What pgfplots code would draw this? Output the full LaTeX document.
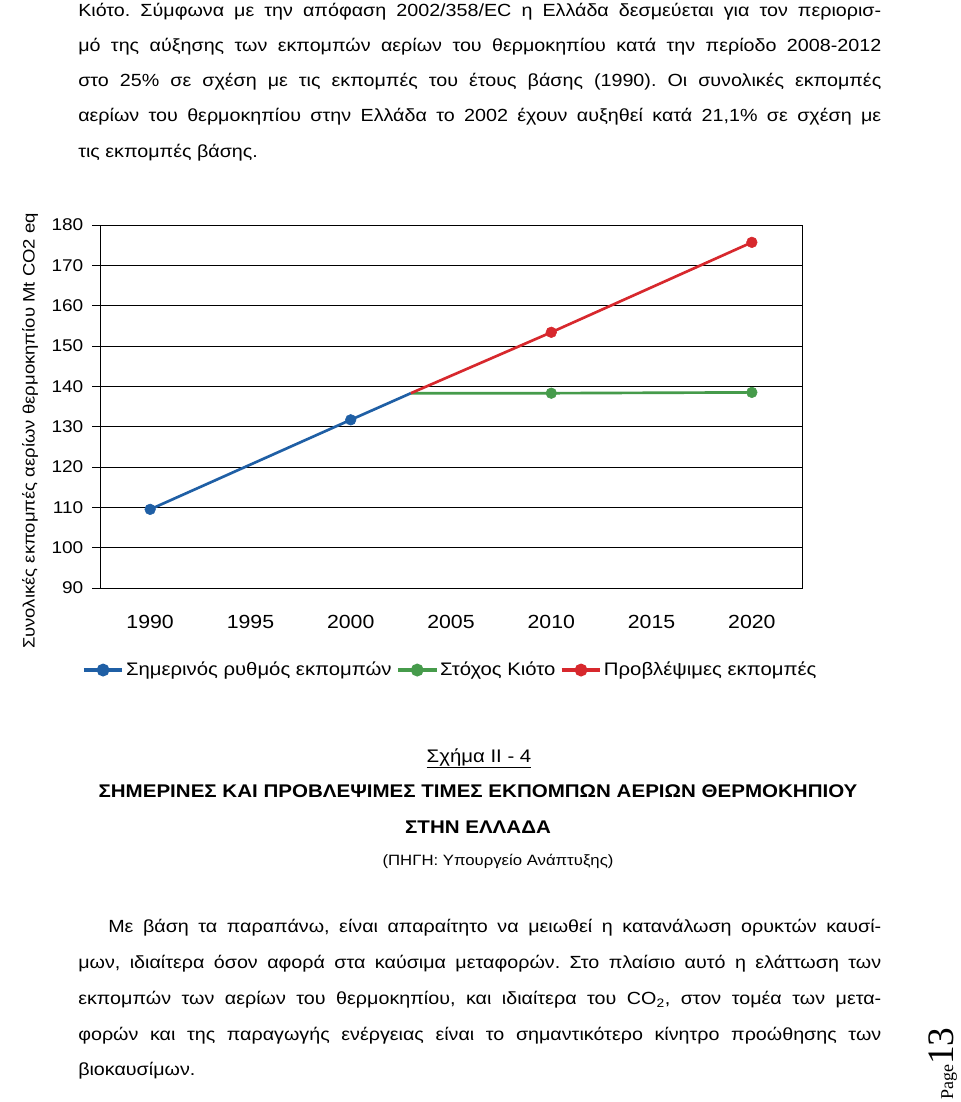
\documentclass[border=0pt]{standalone}
\usepackage{fontspec}
\setmainfont{Liberation Sans}[FakeStretch=1.12]
\newfontfamily\pagefont{Liberation Serif}
\usepackage{pgfplots}
\pgfplotsset{compat=1.18}
\definecolor{cblue}{RGB}{31,95,165}
\definecolor{cgreen}{RGB}{70,155,75}
\definecolor{cred}{RGB}{215,40,45}
\frenchspacing
\begin{document}
\begin{tikzpicture}
\useasboundingbox (0,0) rectangle (720pt,-826.5pt);
\fill[white] (0,0) rectangle (720pt,-826.5pt);
\begin{scope}[x=0.75pt,y=-0.75pt]
\tikzset{bl/.style={anchor=base west,inner sep=0pt,font=\fontsize{13.2}{15}\selectfont},
         bc/.style={anchor=base,inner sep=0pt}}
\node[bl] at (78,17) {\makebox[602.25pt][s]{Κιότο. Σύμφωνα με την απόφαση 2002/358/EC η Ελλάδα δεσμεύεται για τον περιορισ-}};
\node[bl] at (78,52) {\makebox[602.25pt][s]{μό της αύξησης των εκπομπών αερίων του θερμοκηπίου κατά την περίοδο 2008-2012}};
\node[bl] at (78,87) {\makebox[602.25pt][s]{στο 25\% σε σχέση με τις εκπομπές του έτους βάσης (1990). Οι συνολικές εκπομπές}};
\node[bl] at (78,122) {\makebox[602.25pt][s]{αερίων του θερμοκηπίου στην Ελλάδα το 2002 έχουν αυξηθεί κατά 21,1\% σε σχέση με}};
\node[bl] at (78,157) {τις εκπομπές βάσης.};
% caption
\node[bc,font=\fontsize{13.65}{15}\selectfont] at (479,762) {\underline{Σχήμα II - 4}};
\node[bc,font=\bfseries\fontsize{13.75}{15}\selectfont] at (478,797) {ΣΗΜΕΡΙΝΕΣ ΚΑΙ ΠΡΟΒΛΕΨΙΜΕΣ ΤΙΜΕΣ ΕΚΠΟΜΠΩΝ ΑΕΡΙΩΝ ΘΕΡΜΟΚΗΠΙΟΥ};
\node[bc,font=\bfseries\fontsize{13.75}{15}\selectfont] at (478,833) {ΣΤΗΝ ΕΛΛΑΔΑ};
\node[bc,font=\fontsize{11.2}{13}\selectfont] at (498,865) {(ΠΗΓΗ: Υπουργείο Ανάπτυξης)};
% bottom paragraph
\node[bl] at (108,932) {\makebox[579.75pt][s]{Με βάση τα παραπάνω, είναι απαραίτητο να μειωθεί η κατανάλωση ορυκτών καυσί-}};
\node[bl] at (78,968) {\makebox[602.25pt][s]{μων, ιδιαίτερα όσον αφορά στα καύσιμα μεταφορών. Στο πλαίσιο αυτό η ελάττωση των}};
\node[bl] at (78,1004) {\makebox[602.25pt][s]{εκπομπών των αερίων του θερμοκηπίου, και ιδιαίτερα του CO\textsubscript{2}, στον τομέα των μετα-}};
\node[bl] at (78,1040) {\makebox[602.25pt][s]{φορών και της παραγωγής ενέργειας είναι το σημαντικότερο κίνητρο προώθησης των}};
\node[bl] at (78,1075) {βιοκαυσίμων.};
% page number
\node[anchor=base west,inner sep=0pt,rotate=90] at (953,1100) {\pagefont{\fontsize{13.5}{14}\selectfont Page}{\fontsize{28}{29}\selectfont 13}};
\end{scope}
\begin{axis}[
  at={(75pt,-441pt)}, anchor=south west,
  scale only axis, width=526.5pt, height=272.25pt,
  xmin=1987.5, xmax=2022.5, ymin=90, ymax=180,
  xtick=\empty,
  minor xtick={1987.5,1992.5,...,2022.5},
  minor tick length=7.5pt,
  major tick length=6pt,
  extra x ticks={1990,1995,2000,2005,2010,2015,2020},
  extra x tick labels={1990,1995,2000,2005,2010,2015,2020},
  extra x tick style={major tick length=0pt, xticklabel style={yshift=-17pt}},
  ytick={90,100,...,180},
  tick align=outside,
  xtick pos=lower, ytick pos=left,
  ymajorgrids,
  grid style={black, line width=0.75pt},
  axis line style={black, line width=0.75pt},
  tick style={black, line width=0.75pt},
  /pgf/number format/assume math mode=true,
  xticklabel style={font=\fontsize{14.25}{16}\selectfont},
  yticklabel style={font=\fontsize{12.75}{14}\selectfont, xshift=-3pt},
  ylabel={Συνολικές εκπομπές αερίων θερμοκηπίου Mt CO2 eq},
  ylabel style={at={(axis description cs:-0.0997,0.4325)}, anchor=center, font=\fontsize{12.4}{14}\selectfont},
  legend style={at={(axis description cs:0.498,-0.226)}, anchor=center, draw=none, fill=none,
    font=\fontsize{13.6}{15}\selectfont, legend columns=3,
    /tikz/every even column/.append style={column sep=2pt},
    nodes={inner xsep=1pt}},
  legend cell align=left,
  legend image code/.code={\draw[#1,line width=3.4pt] (0pt,0pt) -- (29pt,0pt); \fill[#1] (14.5pt,0pt) circle (3.8pt);},
]
\addplot[cblue, line width=2pt] coordinates {(1990,109.5) (2000,131.7) (2003,138.3)};
\addlegendentry{Σημερινός ρυθμός εκπομπών}
\addplot[cgreen, line width=2pt] coordinates {(2003,138.3) (2010,138.3) (2020,138.5)};
\addlegendentry{Στόχος Κιότο}
\addplot[cred, line width=2pt] coordinates {(2003,138.3) (2010,153.4) (2020,175.7)};
\addlegendentry{Προβλέψιμες εκπομπές}
\addplot[only marks, mark=*, mark size=4pt, cblue, forget plot] coordinates {(1990,109.5) (2000,131.7)};
\addplot[only marks, mark=*, mark size=4pt, cgreen, forget plot] coordinates {(2010,138.3) (2020,138.5)};
\addplot[only marks, mark=*, mark size=4pt, cred, forget plot] coordinates {(2010,153.4) (2020,175.7)};
\end{axis}
\end{tikzpicture}
\end{document}
